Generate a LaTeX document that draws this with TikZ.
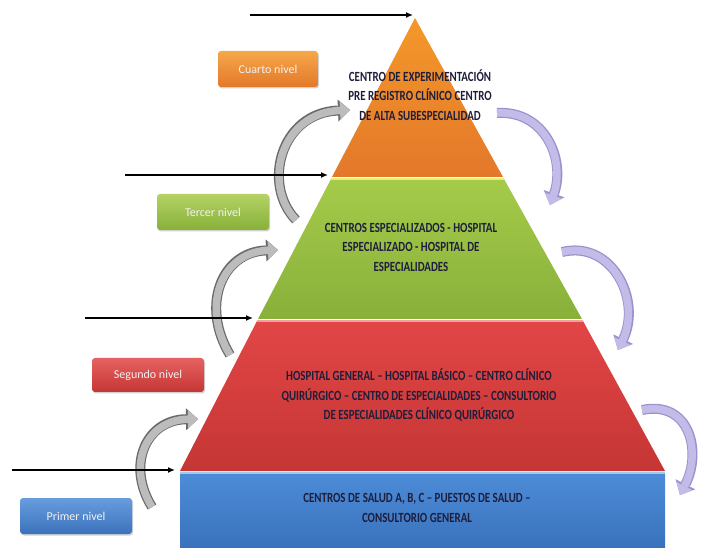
\documentclass[tikz,border=0pt]{standalone}
\usepackage{fontspec}
\setmainfont{Carlito}
\newfontfamily\tierfont[FakeStretch=0.78, BoldFont={Carlito Bold}]{Carlito}
\usetikzlibrary{
  arrows.meta
  , shadows
}

\definecolor{navytext}{HTML}{1E1E3C}
\definecolor{grayfill}{HTML}{BCBCBC}
\definecolor{grayedge}{HTML}{6A6A6A}
\definecolor{lilacfill}{HTML}{C3BCE8}
\definecolor{lilacedge}{HTML}{9A92CE}
\definecolor{orangeTop}{HTML}{F4982A}
\definecolor{orangeBot}{HTML}{E3782A}
\definecolor{greenTop}{HTML}{A6CB4A}
\definecolor{greenBot}{HTML}{88B03A}
\definecolor{redTop}{HTML}{E24646}
\definecolor{redBot}{HTML}{C43634}
\definecolor{blueTop}{HTML}{4D8CD8}
\definecolor{blueBot}{HTML}{3A72BC}

\begin{document}
\begin{tikzpicture}[x=1pt, y=-1pt
    , tier text/.style={font=\tierfont\bfseries\fontsize{14}{19.5}\selectfont
      , text=navytext, align=center}
    , level box/.style={rounded corners=3pt, minimum width=112pt
      , minimum height=36pt, font=\fontsize{12}{14}\selectfont
      , text=white!90!gray
      , drop shadow={opacity=0.35, shadow xshift=1pt, shadow yshift=-1.5pt}}
    , level arrow/.style={line width=2.2pt, -{Latex[length=7pt,width=6pt]}}
  ]
  \tikzstyle{gray arrow}=[preaction={draw=grayedge, line width=10pt
      , -{Triangle[length=12pt,width=22pt,line width=0pt]}}
    , draw=grayfill, line width=7.5pt
    , -{Triangle[length=10pt,width=18pt,line width=0pt]}];
  \tikzstyle{lilac arrow}=[preaction={draw=lilacedge, line width=10pt
      , -{Triangle[length=12pt,width=22pt,line width=0pt]}}
    , draw=lilacfill, line width=7.5pt
    , -{Triangle[length=10pt,width=18pt,line width=0pt]}];

  \useasboundingbox [fill=white] (0,0) rectangle (713,548);

  % corners of the pyramid
  \coordinate (apex) at (415,18);
  \coordinate (orangeL) at (332,177);
  \coordinate (orangeR) at (503,177);
  \coordinate (greenTL) at (331,179);
  \coordinate (greenTR) at (504,179);
  \coordinate (greenBL) at (258,319);
  \coordinate (greenBR) at (582,319);
  \coordinate (redTL) at (257,321);
  \coordinate (redTR) at (583,321);
  \coordinate (redBL) at (180,471);
  \coordinate (redBR) at (665,471);

  % curved arrows, behind the pyramid
  \coordinate (up1a) at (296,220);
  \coordinate (up1b) at (350,110);
  \coordinate (up2a) at (230,355);
  \coordinate (up2b) at (278,250);
  \coordinate (up3a) at (152,507);
  \coordinate (up3b) at (198,419);
  \draw [gray arrow] (up1a) .. controls (262,185) and (280,113) .. (up1b);
  \draw [gray arrow] (up2a) .. controls (200,305) and (222,252) .. (up2b);
  \draw [gray arrow] (up3a) .. controls (126,465) and (146,420) .. (up3b);

  \coordinate (down1a) at (497,113);
  \coordinate (down1b) at (550,205);
  \coordinate (down2a) at (562,252);
  \coordinate (down2b) at (618,350);
  \coordinate (down3a) at (642,410);
  \coordinate (down3b) at (680,495);
  \draw [lilac arrow] (down1a) .. controls (545,110) and (566,160) .. (down1b);
  \draw [lilac arrow] (down2a) .. controls (612,240) and (642,300) .. (down2b);
  \draw [lilac arrow] (down3a) .. controls (690,400) and (702,452) .. (down3b);

  % the tiers
  \shade [top color=orangeTop, bottom color=orangeBot]
  (apex) -- (orangeR) -- (orangeL) -- cycle;
  \shade [top color=greenTop, bottom color=greenBot]
  (greenTL) -- (greenTR) -- (greenBR) -- (greenBL) -- cycle;
  \draw [greenTop!50!yellow!60!white, line width=1.5pt] (greenTL) -- (greenTR);
  \shade [top color=redTop, bottom color=redBot]
  (redTL) -- (redTR) -- (redBR) -- (redBL) -- cycle;
  \draw [redTop!50!white, line width=1.5pt] (redTL) -- (redTR);
  \shade [top color=blueTop, bottom color=blueBot]
  (180,473) rectangle (665,548);
  \draw [blueTop!50!white, line width=1.5pt] (180,473) -- (665,473);

  \node [tier text] (cuarto) at (420,95) {CENTRO DE EXPERIMENTACIÓN\\PRE REGISTRO CLÍNICO CENTRO\\DE ALTA SUBESPECIALIDAD};
  \node [tier text] (tercer) at (411,247) {CENTROS ESPECIALIZADOS - HOSPITAL\\ESPECIALIZADO - HOSPITAL DE\\ESPECIALIDADES};
  \node [tier text] (segundo) at (419,395) {HOSPITAL GENERAL – HOSPITAL BÁSICO – CENTRO CLÍNICO\\QUIRÚRGICO – CENTRO DE ESPECIALIDADES – CONSULTORIO\\DE ESPECIALIDADES CLÍNICO QUIRÚRGICO};
  \node [tier text] (primer) at (417,508) {CENTROS DE SALUD A, B, C – PUESTOS DE SALUD –\\CONSULTORIO GENERAL};

  % level buttons
  \node [level box, minimum width=100pt, top color=orangeTop!85!white, bottom color=orangeBot] (cuartoBox) at (268,69) {Cuarto nivel};
  \node [level box, top color=greenTop!85!white, bottom color=greenBot] (tercerBox) at (213,212) {Tercer nivel};
  \node [level box, minimum height=34pt, top color=redTop!85!white, bottom color=redBot] (segundoBox) at (148,375) {Segundo nivel};
  \node [level box, top color=blueTop!85!white, bottom color=blueBot] (primerBox) at (76,516) {Primer nivel};

  % black arrows
  \coordinate (lvl4) at (250,15);
  \coordinate (lvl3) at (125,175);
  \coordinate (lvl2) at (85,318);
  \coordinate (lvl1) at (12,470);
  \coordinate (tip4) at (413,15);
  \coordinate (tip3) at (328,175);
  \coordinate (tip2) at (253,318);
  \coordinate (tip1) at (175,470);
  \draw [level arrow] (lvl4) -- (tip4);
  \draw [level arrow] (lvl3) -- (tip3);
  \draw [level arrow] (lvl2) -- (tip2);
  \draw [level arrow] (lvl1) -- (tip1);
\end{tikzpicture}
\end{document}
